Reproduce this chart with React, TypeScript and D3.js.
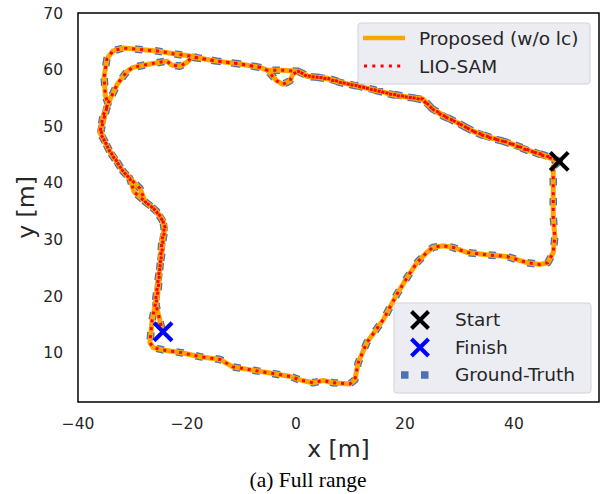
import { useEffect, useRef } from 'react';
import * as d3 from 'd3';

// estimated trajectory (both laps)
const trajX = [
  48.3, 47.2, 44.8, 42.4, 38.7, 35.0, 32.5, 29.5, 27.0, 25.1, 23.3, 19.1, 17.2, 14.1, 11.2, 8.1, 5.7, 2.0, 0.4,
  -2.4, -5.3, -6.6, -10.3, -14.5, -17.6, -19.4, -21.8, -25.5, -29.2, -31.7, -33.6, -34.7, -35.2, -35.0, -34.5,
  -35.4, -36.0, -35.0, -34.1, -32.8, -31.7, -30.5, -28.6, -27.7, -25.9, -24.6, -24.0, -24.4, -24.6, -25.3, -25.9,
  -26.4, -26.8, -26.2, -24.4, -21.0, -17.6, -13.9, -11.6, -5.3, -1.0, 0.7, 3.1, 5.0, 6.8, 9.9, 10.8, 11.4, 13.0,
  16.0, 18.5, 20.4, 22.2, 24.0, 25.1, 27.0, 28.8, 31.4, 35.0, 38.7, 42.4, 44.8, 46.2, 47.2, 47.5, 47.2, 47.2, 48.3,
  47.3, 44.9, 42.3, 38.8, 35.1, 32.4, 29.6, 27.1, 25.0, 23.2, 19.2, 17.1, 14.2, 11.1, 8.2, 5.6, 2.1, 0.4,
  -0.6, -1.1, -2.4, -3.5, -5.3, -6.6, -10.3, -14.5, -17.6, -19.1, -20.0, -21.3, -22.8, -23.7, -26.8, -29.9, -31.0,
  -32.8, -34.1, -34.5, -35.2, -35.8, -35.2, -34.3, -33.0, -32.0, -30.8, -30.5, -29.7, -27.7, -25.6, -24.4, -24.2,
  -24.6, -24.9, -25.3, -25.7, -25.0, -24.6, -24.4,
];
const trajY = [
  43.8, 44.2, 45.0, 45.9, 47.2, 48.1, 49.1, 50.7, 51.8, 53.0, 54.8, 55.3, 55.7, 56.5, 57.1, 57.8, 58.5, 58.8, 59.7,
  59.9, 59.9, 60.4, 61.0, 61.5, 62.0, 62.4, 62.7, 63.3, 63.6, 63.8, 63.3, 61.9, 58.7, 55.5, 54.0,
  51.8, 48.9, 47.2, 45.4, 43.6, 42.0, 40.8, 39.0, 36.7, 35.3, 33.5, 32.1, 30.0, 27.7, 22.9, 18.1,
  15.8, 11.8, 10.9, 10.5, 10.0, 9.3, 8.8, 7.5, 6.5, 5.8, 5.2, 4.7, 5.1, 4.7, 4.5, 5.2, 8.2, 11.8,
  15.8, 20.3, 23.3, 25.9, 27.7, 28.6, 28.9, 28.6, 27.7, 27.3, 27.0, 25.9, 25.6, 25.9, 27.7, 30.5, 34.1, 42.9, 43.8,
  44.3, 45.1, 45.8, 47.1, 48.2, 49.2, 50.6, 51.9, 53.1, 54.7, 55.4, 55.8, 56.4, 57.2, 57.7, 58.4, 58.9, 59.7,
  59.2, 58.0, 57.4, 58.0, 59.9, 60.4, 61.0, 61.5, 62.0, 62.2, 61.3, 60.6, 60.8, 61.5, 61.0, 60.4, 59.7,
  57.4, 54.8, 54.0, 51.5, 49.2, 47.5, 45.8, 44.0, 42.4, 41.0, 40.8, 38.4, 36.7, 35.0, 33.4, 31.8,
  29.8, 26.0, 21.0, 18.5, 15.8, 14.1, 13.7,
];

const startPt = [48.3, 43.8];
const finishPt = [-24.4, 13.7];

const xTicks = [-40, -20, 0, 20, 40];
const yTicks = [10, 20, 30, 40, 50, 60, 70];

const legendTop = ['Proposed (w/o lc)', 'LIO-SAM'];
const legendBottom = ['Start', 'Finish', 'Ground-Truth'];

const W = 606;
const H = 494;
const M = { left: 78, right: 599, top: 13, bottom: 402 };
const FONT = 'DejaVu Sans, sans-serif';
const TXT = '#262626';

function App() {
  const ref = useRef<SVGSVGElement>(null);

  useEffect(() => {
    const svg = d3.select(ref.current);
    svg.selectAll('*').remove();

    const x = d3.scaleLinear().domain([-40, 55.6]).range([M.left, M.right]);
    const y = d3.scaleLinear().domain([1.3, 70]).range([M.bottom, M.top]);

    svg.append('defs').append('clipPath').attr('id', 'plotclip')
      .append('rect')
      .attr('x', M.left).attr('y', M.top)
      .attr('width', M.right - M.left).attr('height', M.bottom - M.top);

    const pts = trajX.map((v, i) => [v, trajY[i]] as [number, number]);
    const line = d3.line<[number, number]>().x(d => x(d[0])).y(d => y(d[1]));

    const g = svg.append('g').attr('clip-path', 'url(#plotclip)');

    // ground truth
    g.append('path').attr('d', line(pts))
      .attr('fill', 'none').attr('stroke', '#4C72B0')
      .attr('stroke-width', 7.5).attr('stroke-dasharray', '7.5 12.4')
      .attr('stroke-linejoin', 'round');
    // proposed
    g.append('path').attr('d', line(pts))
      .attr('fill', 'none').attr('stroke', '#FFA500')
      .attr('stroke-width', 5).attr('stroke-linejoin', 'round').attr('stroke-linecap', 'round');
    // LIO-SAM
    g.append('path').attr('d', line(pts))
      .attr('fill', 'none').attr('stroke', '#FF0000')
      .attr('stroke-width', 3).attr('stroke-dasharray', '3 4.95')
      .attr('stroke-linejoin', 'round');

    const cross = (sel: any, cx: number, cy: number, color: string, s: number) => {
      sel.append('path')
        .attr('d', `M${cx - s},${cy - s}L${cx + s},${cy + s}M${cx - s},${cy + s}L${cx + s},${cy - s}`)
        .attr('stroke', color).attr('stroke-width', 4).attr('fill', 'none');
    };
    cross(g, x(startPt[0]), y(startPt[1]), '#000000', 9);
    cross(g, x(finishPt[0]), y(finishPt[1]), '#0000FF', 9);

    // frame
    svg.append('rect')
      .attr('x', M.left).attr('y', M.top)
      .attr('width', M.right - M.left).attr('height', M.bottom - M.top)
      .attr('fill', 'none').attr('stroke', '#000').attr('stroke-width', 1.5);

    // ticks
    svg.append('g').selectAll('text').data(xTicks).join('text')
      .attr('x', d => x(d)).attr('y', 429)
      .attr('text-anchor', 'middle')
      .attr('font-family', FONT).attr('font-size', 15.5).attr('fill', TXT)
      .text(d => d3.format('')(d).replace('-', '\u2212'));
    svg.append('g').selectAll('text').data(yTicks).join('text')
      .attr('x', 63).attr('y', d => y(d) + 5.5)
      .attr('text-anchor', 'end')
      .attr('font-family', FONT).attr('font-size', 15.5).attr('fill', TXT)
      .text(d => String(d));

    // axis labels
    svg.append('text')
      .attr('x', (M.left + M.right) / 2).attr('y', 457)
      .attr('text-anchor', 'middle')
      .attr('font-family', FONT).attr('font-size', 23.5).attr('fill', TXT)
      .text('x [m]');
    svg.append('text')
      .attr('transform', `translate(34,${(M.top + M.bottom) / 2}) rotate(-90)`)
      .attr('text-anchor', 'middle')
      .attr('font-family', FONT).attr('font-size', 23.5).attr('fill', TXT)
      .text('y [m]');

    // caption
    svg.append('text')
      .attr('x', 308).attr('y', 487)
      .attr('text-anchor', 'middle')
      .attr('font-family', 'Liberation Serif, serif').attr('font-size', 21.5).attr('fill', '#000')
      .text('(a) Full range');

    // legend 1
    const l1 = svg.append('g');
    l1.append('rect').attr('x', 358).attr('y', 23).attr('width', 232).attr('height', 61)
      .attr('rx', 3).attr('fill', '#EAEAF2').attr('fill-opacity', 0.9)
      .attr('stroke', '#D2D2D8').attr('stroke-width', 1);
    l1.append('line').attr('x1', 363).attr('x2', 405).attr('y1', 38).attr('y2', 38)
      .attr('stroke', '#FFA500').attr('stroke-width', 4.5);
    l1.append('line').attr('x1', 364).attr('x2', 405).attr('y1', 66).attr('y2', 66)
      .attr('stroke', '#FF0000').attr('stroke-width', 3).attr('stroke-dasharray', '3 5.3');
    l1.selectAll('text.lab').data(legendTop).join('text')
      .attr('class', 'lab')
      .attr('x', 419).attr('y', (d, i) => 44.5 + i * 28)
      .attr('font-family', FONT).attr('font-size', 18.5).attr('fill', TXT)
      .text(d => d);

    // legend 2
    const l2 = svg.append('g');
    l2.append('rect').attr('x', 394).attr('y', 303).attr('width', 197).attr('height', 90)
      .attr('rx', 3).attr('fill', '#EAEAF2').attr('fill-opacity', 0.9)
      .attr('stroke', '#D2D2D8').attr('stroke-width', 1);
    cross(l2, 420, 320, '#000000', 8.5);
    cross(l2, 420, 347.5, '#0000FF', 8.5);
    l2.append('line').attr('x1', 401).attr('x2', 440).attr('y1', 375).attr('y2', 375)
      .attr('stroke', '#4C72B0').attr('stroke-width', 7.5).attr('stroke-dasharray', '7.5 12.5');
    l2.selectAll('text.lab').data(legendBottom).join('text')
      .attr('class', 'lab')
      .attr('x', 455).attr('y', (d, i) => 326 + i * 27.7)
      .attr('font-family', FONT).attr('font-size', 18.5).attr('fill', TXT)
      .text(d => d);
  });

  return (
    <div className="chart-container">
      <svg ref={ref} width={W} height={H} style={{ position: 'absolute', left: 0, top: 0 }} />
    </div>
  );
}

export default App;
